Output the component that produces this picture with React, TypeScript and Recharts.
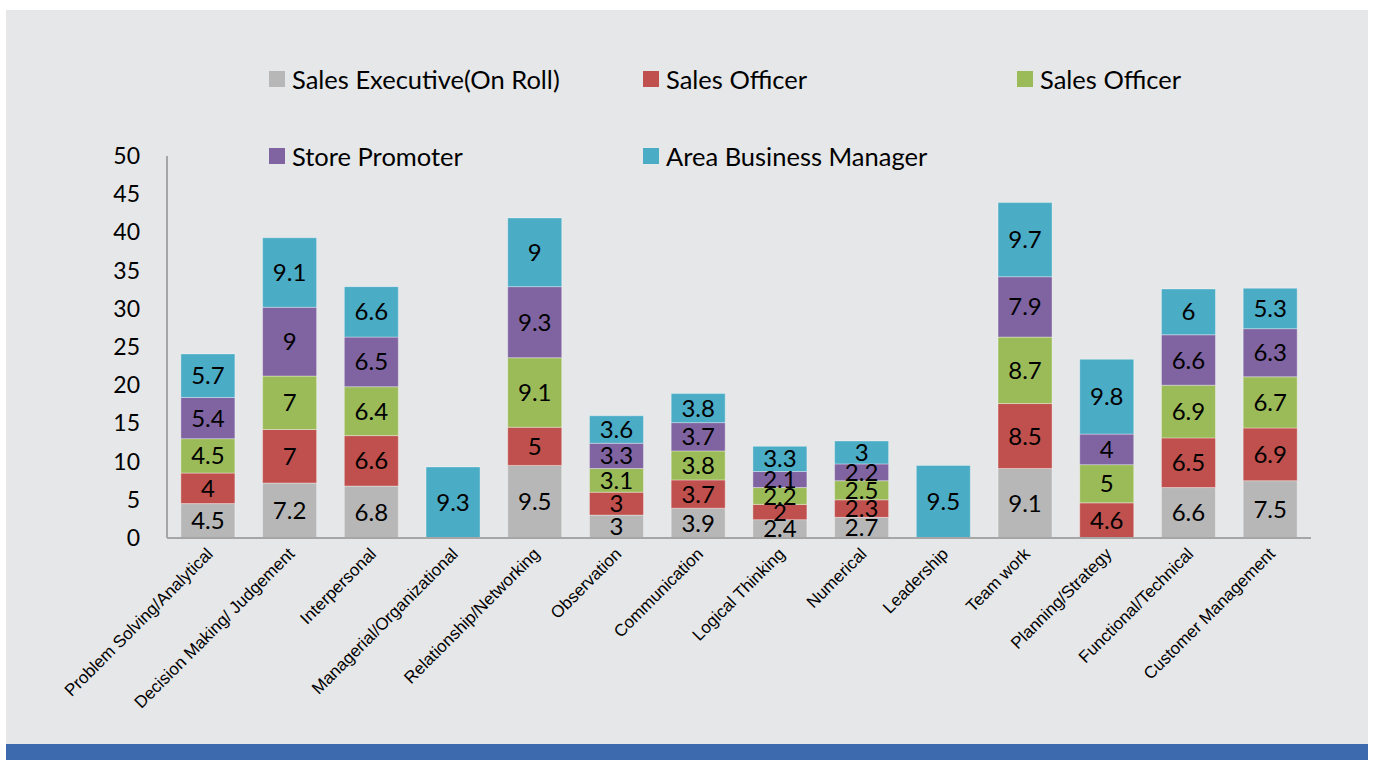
import React from 'react';
import { BarChart, Bar, XAxis, YAxis, LabelList } from 'recharts';

const categories = [
  'Problem Solving/Analytical',
  'Decision Making/ Judgement',
  'Interpersonal',
  'Managerial/Organizational',
  'Relationship/Networking',
  'Observation',
  'Communication',
  'Logical Thinking',
  'Numerical',
  'Leadership',
  'Team work',
  'Planning/Strategy',
  'Functional/Technical',
  'Customer Management',
];

const salesExecutive = [4.5, 7.2, 6.8, 0, 9.5, 3, 3.9, 2.4, 2.7, 0, 9.1, 0, 6.6, 7.5];
const salesOfficerA = [4, 7, 6.6, 0, 5, 3, 3.7, 2, 2.3, 0, 8.5, 4.6, 6.5, 6.9];
const salesOfficerB = [4.5, 7, 6.4, 0, 9.1, 3.1, 3.8, 2.2, 2.5, 0, 8.7, 5, 6.9, 6.7];
const storePromoter = [5.4, 9, 6.5, 0, 9.3, 3.3, 3.7, 2.1, 2.2, 0, 7.9, 4, 6.6, 6.3];
const areaBusinessManager = [5.7, 9.1, 6.6, 9.3, 9, 3.6, 3.8, 3.3, 3, 9.5, 9.7, 9.8, 6, 5.3];

const yTicks = [0, 5, 10, 15, 20, 25, 30, 35, 40, 45, 50];

const series = [
  { key: 'se', name: 'Sales Executive(On Roll)', color: '#b7b7b7', values: salesExecutive },
  { key: 'soA', name: 'Sales Officer', color: '#c0504d', values: salesOfficerA },
  { key: 'soB', name: 'Sales Officer', color: '#9bbb59', values: salesOfficerB },
  { key: 'sp', name: 'Store Promoter', color: '#8064a2', values: storePromoter },
  { key: 'abm', name: 'Area Business Manager', color: '#4bacc6', values: areaBusinessManager },
];

const data = categories.map((c, i) => {
  const row: any = { name: c };
  series.forEach((s) => {
    row[s.key] = s.values[i];
  });
  return row;
});

const FONT = 'Lato, "Open Sans", sans-serif';

const XTick = (props: any) => {
  const { x, y, payload } = props;
  const ax = x + 6;
  const ay = y + 17;
  return (
    <text
      x={ax}
      y={ay}
      textAnchor="end"
      fontSize={17}
      fontFamily='"Liberation Sans", Arial, sans-serif'
      fill="#000"
      transform={`rotate(-45, ${ax}, ${ay})`}
    >
      {payload.value}
    </text>
  );
};

const YTick = (props: any) => {
  const { x, y, payload } = props;
  return (
    <text x={x} y={y} dy="0.35em" textAnchor="end" fontSize={23} fontFamily={FONT} fill="#000">
      {payload.value}
    </text>
  );
};

const fmt = (v: any) => (v ? v : '');

export default function App() {
  return (
    <div style={{ position: 'absolute', left: 0, top: 0, width: 1373, height: 760, background: '#fff' }}>
      <div style={{ position: 'absolute', left: 6, top: 10, width: 1362, height: 734, background: '#e6e7e8' }} />
      <div style={{ position: 'absolute', left: 6, top: 744, width: 1362, height: 16, background: '#3d6aae' }} />
      {series.map((s, i) => {
        const col = i % 3;
        const row = Math.floor(i / 3);
        return (
          <div
            key={s.key}
            style={{
              position: 'absolute',
              left: 269 + col * 374,
              top: 79 + row * 77 - 15,
              height: 30,
              display: 'flex',
              alignItems: 'center',
              fontFamily: FONT,
              fontSize: 25.5,
              color: '#000',
              whiteSpace: 'nowrap',
            }}
          >
            <span style={{ display: 'inline-block', width: 16, height: 16, background: s.color, marginRight: 7 }} />
            <span>{s.name}</span>
          </div>
        );
      })}
      <div style={{ position: 'absolute', left: 0, top: 0 }}>
        <BarChart
          width={1373}
          height={760}
          data={data}
          margin={{ top: 156, right: 62, bottom: 162, left: 107 }}
          barCategoryGap="17%"
        >
          <XAxis
            dataKey="name"
            interval={0}
            height={60}
            tickSize={0}
            tickMargin={0}
            tick={<XTick />}
            axisLine={{ stroke: '#a6a6a6', strokeWidth: 2 }}
            tickLine={false}
          />
          <YAxis
            width={60}
            domain={[0, 50]}
            ticks={yTicks}
            interval={0}
            tickSize={0}
            tickMargin={27}
            tick={<YTick />}
            axisLine={{ stroke: '#a6a6a6', strokeWidth: 2 }}
            tickLine={false}
          />
          {series.map((s) => (
            <Bar
              key={s.key}
              dataKey={s.key}
              name={s.name}
              stackId="a"
              fill={s.color}
              stroke="rgba(255,255,255,0.35)"
              strokeWidth={1}
              isAnimationActive={false}
            >
              <LabelList
                dataKey={s.key}
                position="center"
                formatter={fmt}
                fill="#000"
                fontSize={24}
                fontFamily={FONT}
              />
            </Bar>
          ))}
        </BarChart>
      </div>
    </div>
  );
}
